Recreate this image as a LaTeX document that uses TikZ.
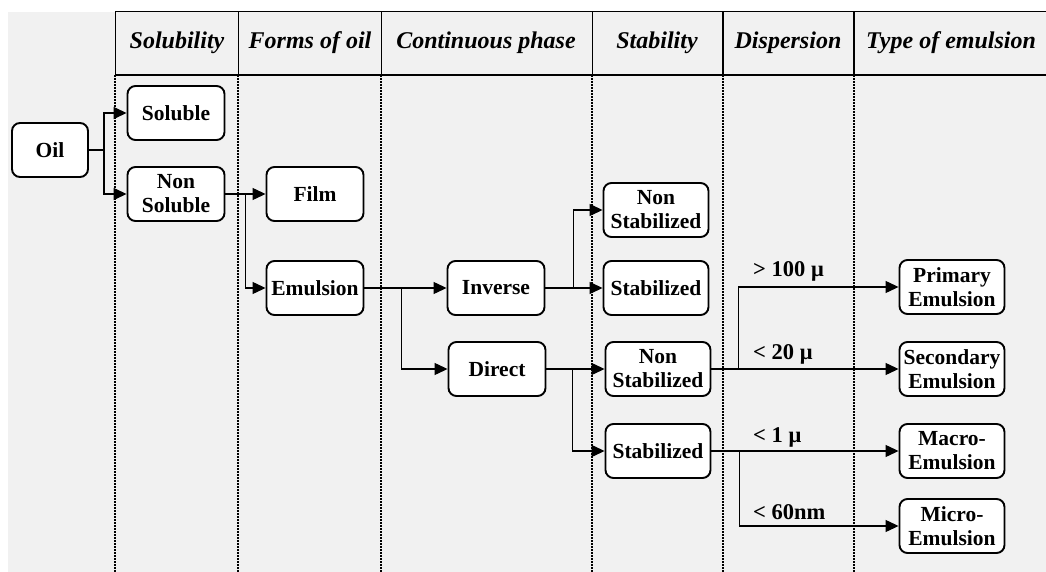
\documentclass[tikz,border=0pt]{standalone}
\usepackage{fontspec}
\setmainfont{Liberation Serif}
\usetikzlibrary{arrows.meta}
\definecolor{bggray}{HTML}{F1F1F1}
\tikzset{
  box/.style={draw, line width=1.9pt, rounded corners=8pt, fill=white, align=center,
    inner xsep=2pt, inner ysep=1pt, minimum height=54pt, minimum width=97pt,
    font=\bfseries\fontsize{21.5}{24}\selectfont},
  wide/.style={minimum width=105pt},
  head/.style={font=\bfseries\itshape\fontsize{24}{26}\selectfont, inner sep=0pt},
  lab/.style={font=\bfseries\fontsize{22.5}{24}\selectfont, inner sep=0pt, anchor=west},
  arr/.style={line width=1.2pt, -{Triangle[length=13pt,width=12pt]}},
  hline/.style={line width=1pt},
  dline/.style={line width=1.2pt, dash pattern=on 2pt off 1pt},
}
\begin{document}
\begin{tikzpicture}[x=1pt,y=-1pt]
\useasboundingbox (0,0) rectangle (1046,572);
\fill[bggray] (8,12) rectangle (1046,572);
% header
\draw[hline] (115,12) -- (1046,12);
\draw[line width=2pt] (115,75) -- (1046,75);
\foreach \x in {115,238,381,592} \draw[hline] (\x,12) -- (\x,75);
\foreach \x in {723,854} \draw[line width=1.6pt] (\x,12) -- (\x,75);
\foreach \x in {115,238,381,592,723,854} \draw[dline] (\x,75) -- (\x,572);
\node[head] (h1) at (177,43) {Solubility};
\node[head] (h2) at (310,43) {Forms of oil};
\node[head] (h3) at (486,43) {Continuous phase};
\node[head] (h4) at (657,43) {Stability};
\node[head] (h5) at (788,43) {Dispersion};
\node[head, anchor=west] (h6) at (866,43) {Type of emulsion};
% nodes
\node[box, minimum width=76pt] (oil) at (50,150) {Oil};
\node[box] (sol) at (176,113) {Soluble};
\node[box] (nsol) at (176,194) {Non\\Soluble};
\node[box] (film) at (315,194) {Film};
\node[box] (emul) at (315,288) {Emulsion};
\node[box] (inv) at (496,288) {Inverse};
\node[box] (dir) at (497,369) {Direct};
\node[box, wide] (ns1) at (656,210) {Non\\Stabilized};
\node[box, wide] (st2) at (656,288) {Stabilized};
\node[box, wide] (ns3) at (658,369) {Non\\Stabilized};
\node[box, wide] (st4) at (658,451) {Stabilized};
\node[box, wide] (prim) at (952,287) {Primary\\Emulsion};
\node[box, wide] (sec) at (952,369) {Secondary\\Emulsion};
\node[box, wide] (mac) at (952,451) {Macro-\\Emulsion};
\node[box, wide] (mic) at (952,526) {Micro-\\Emulsion};
% connectors
\draw[arr] (oil.east) -- ++(15,0) |- (sol.west);
\draw[arr] (oil.east) -- ++(15,0) |- (nsol.west);
\draw[arr] (nsol.east) -- (film.west);
\draw[arr] (nsol.east) -- ++(20,0) |- (emul.west);
\draw[arr] (emul.east) -- (inv.west);
\draw[arr] (emul.east) -- ++(37,0) |- (dir.west);
\draw[arr] (inv.east) -- (st2.west);
\draw[arr] (inv.east) -- ++(28,0) |- (ns1.west);
\draw[arr] (dir.east) -- (ns3.west);
\draw[arr] (dir.east) -- ++(26,0) |- (st4.west);
\draw[arr] (ns3.east) -- (sec.west);
\draw[arr] (ns3.east) -- ++(27,0) |- (prim.west);
\draw[arr] (st4.east) -- (mac.west);
\draw[arr] (st4.east) -- ++(28,0) |- (mic.west);
% labels
\node[lab] (l1) at (753,271) {> 100 μ};
\node[lab] (l2) at (753,354) {< 20 μ};
\node[lab] (l3) at (753,437) {< 1 μ};
\node[lab] (l4) at (753,512) {< 60nm};
\end{tikzpicture}
\end{document}
